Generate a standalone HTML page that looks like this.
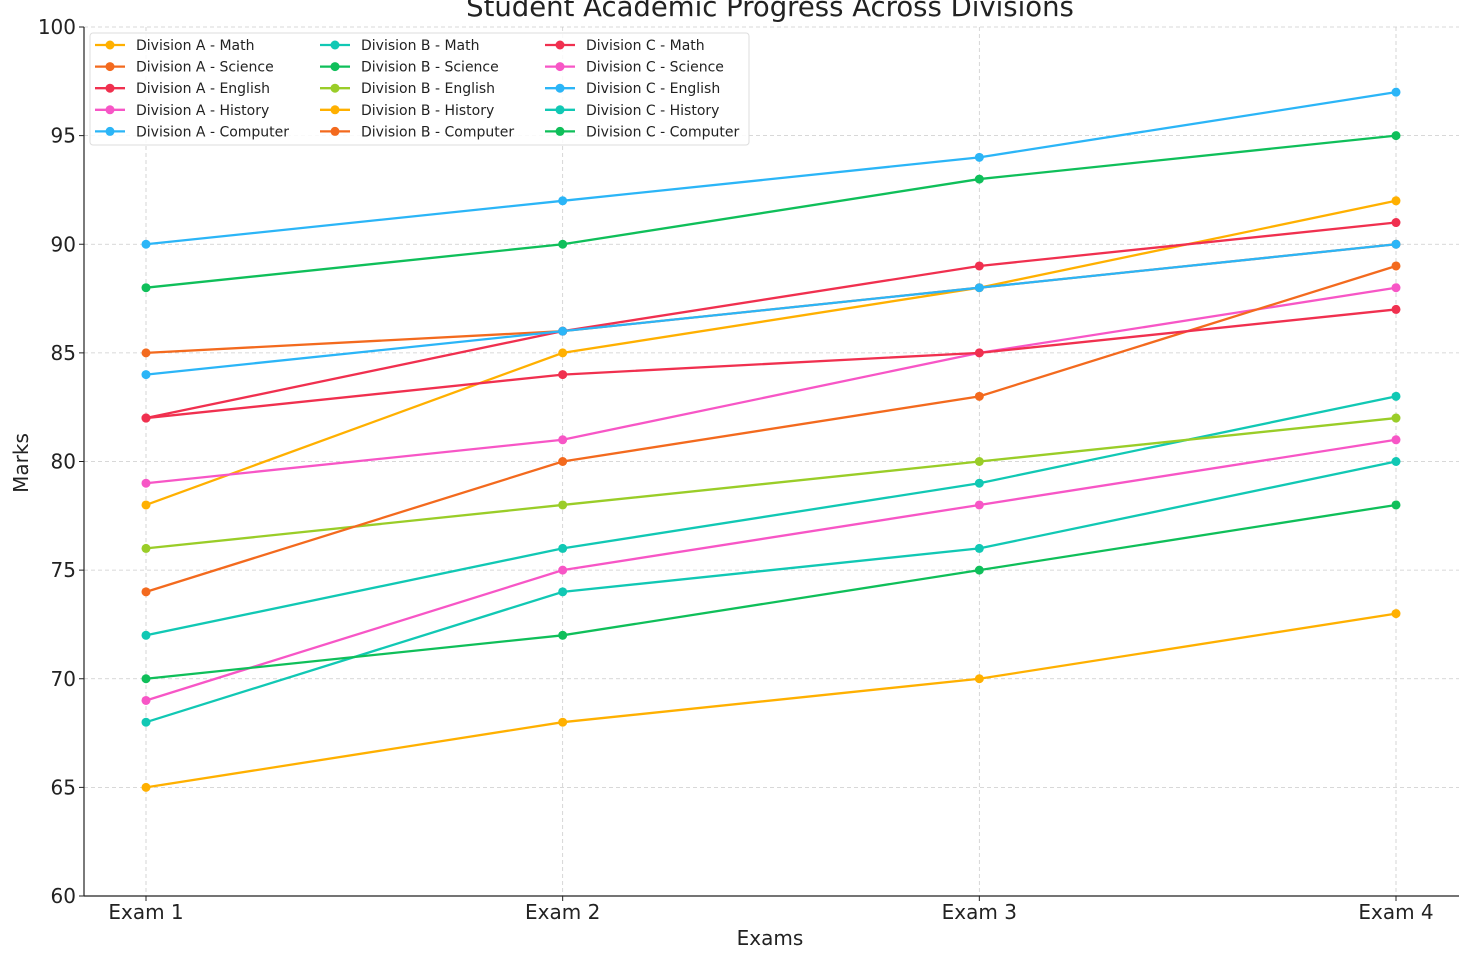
<!DOCTYPE html>
<html><head><meta charset="utf-8"><style>
body{margin:0;background:#fff;font-family:"Liberation Sans","DejaVu Sans",sans-serif}
svg text{font-family:"DejaVu Sans","Liberation Sans",sans-serif}
</style></head><body>
<svg id="chart" width="1468" height="955" xmlns="http://www.w3.org/2000/svg"></svg>
<script>
const categories=["Exam 1","Exam 2","Exam 3","Exam 4"];
const seriesNames=["Division A - Math","Division A - Science","Division A - English","Division A - History","Division A - Computer","Division B - Math","Division B - Science","Division B - English","Division B - History","Division B - Computer","Division C - Math","Division C - Science","Division C - English","Division C - History","Division C - Computer"];
const seriesColors=["#ffb000","#f36a1e","#f0304f","#f756c6","#2bb5f7","#11c8b4","#0fbf5a","#9acd28","#ffb000","#f36a1e","#f0304f","#f756c6","#2bb5f7","#11c8b4","#0fbf5a"];
const aMath=[78,85,88,92];
const aScience=[85,86,88,90];
const aEnglish=[82,86,89,91];
const aHistory=[79,81,85,88];
const aComputer=[90,92,94,97];
const bMath=[72,76,79,83];
const bScience=[88,90,93,95];
const bEnglish=[76,78,80,82];
const bHistory=[65,68,70,73];
const bComputer=[74,80,83,89];
const cMath=[82,84,85,87];
const cScience=[69,75,78,81];
const cEnglish=[84,86,88,90];
const cHistory=[68,74,76,80];
const cComputer=[70,72,75,78];
const seriesValues=[aMath,aScience,aEnglish,aHistory,aComputer,bMath,bScience,bEnglish,bHistory,bComputer,cMath,cScience,cEnglish,cHistory,cComputer];
const yTicks=[60,65,70,75,80,85,90,95,100];

const svg=document.getElementById('chart');
const NS='http://www.w3.org/2000/svg';
const L=84,R=1459,T=27,B=896;
const xS=i=>146+i*(1396-146)/(categories.length-1);
const yS=v=>B-(v-60)/(100-60)*(B-T);
function mk(tag,attrs,parent){const e=document.createElementNS(NS,tag);for(const k in attrs)e.setAttribute(k,attrs[k]);(parent||svg).appendChild(e);return e;}

const grid=mk('g',{});


yTicks.forEach(v=>{mk('line',{x1:L,x2:R,y1:yS(v),y2:yS(v),stroke:'#ccc','stroke-dasharray':'4,3','stroke-width':0.8},grid);
 const t=mk('text',{x:L-8,y:yS(v)+7,'text-anchor':'end','font-size':20,fill:'#222'});t.textContent=v;
 
 });
categories.forEach((c,i)=>{mk('line',{x1:xS(i),x2:xS(i),y1:T,y2:B,stroke:'#ccc','stroke-dasharray':'4,3','stroke-width':0.8},grid);
 mk('line',{x1:xS(i),x2:xS(i),y1:B,y2:B+5,stroke:'#222'});
 const t=mk('text',{x:xS(i),y:B+23,'text-anchor':'middle','font-size':20,fill:'#222'});t.textContent=c;
 
 });
yTicks.forEach(v=>mk('line',{x1:L-5,x2:L,y1:yS(v),y2:yS(v),stroke:'#222'}));
mk('line',{x1:L,x2:L,y1:T,y2:B,stroke:'#222','stroke-width':1.2});
mk('line',{x1:L,x2:R,y1:B,y2:B,stroke:'#222','stroke-width':1.2});

seriesValues.forEach((vals,s)=>{
 const g=mk('g',{});
 
 
 mk('polyline',{points:vals.map((v,i)=>xS(i)+','+yS(v)).join(' '),fill:'none',stroke:seriesColors[s],'stroke-width':2.3},g);
 vals.forEach((v,i)=>mk('circle',{cx:xS(i),cy:yS(v),r:4.5,fill:seriesColors[s]},g));
});

const title=mk('text',{x:770,y:16,'text-anchor':'middle','font-size':27.5,fill:'#222'});
title.textContent='Student Academic Progress Across Divisions';


const xt=mk('text',{x:770,y:945,'text-anchor':'middle','font-size':20,fill:'#222'});xt.textContent='Exams';


const yt=mk('text',{x:28,y:463,'text-anchor':'middle','font-size':20,fill:'#222',transform:'rotate(-90 28 463)'});yt.textContent='Marks';



const lg=mk('g',{});


mk('rect',{x:90,y:33,width:659,height:112,rx:3,fill:'#fff','fill-opacity':0.85,stroke:'#ddd'},lg);
seriesNames.forEach((n,s)=>{
 const col=Math.floor(s/5),row=s%5;const x=95+col*225,y=45+row*21.6;
 const e=mk('g',{},lg);
 
 
 mk('line',{x1:x,x2:x+30,y1:y,y2:y,stroke:seriesColors[s],'stroke-width':2.3},e);
 mk('circle',{cx:x+15,cy:y,r:4.5,fill:seriesColors[s]},e);
 const t=mk('text',{x:x+41,y:y+5,'font-size':14,fill:'#222'},e);t.textContent=n;
});
</script>
</body></html>
